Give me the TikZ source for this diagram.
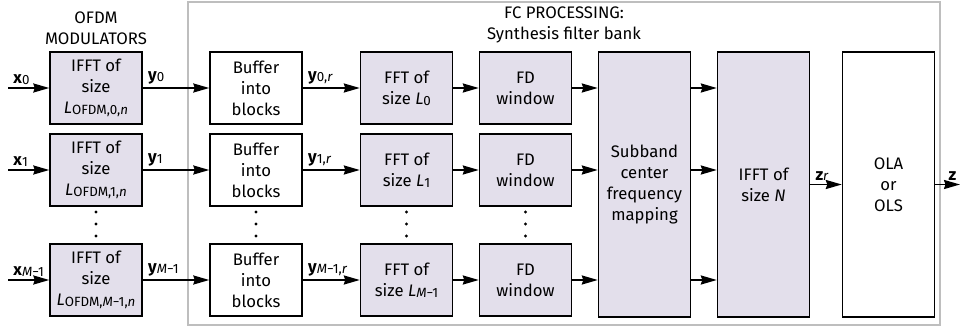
\documentclass[tikz,border=0pt]{standalone}
\usepackage{fontspec}
\setmainfont{Fira Sans}
\usepackage{xcolor}
\usepackage{tikz}
\usetikzlibrary{arrows.meta,positioning,calc}
\definecolor{lav}{RGB}{227,223,235}
\definecolor{fcgray}{RGB}{190,190,190}
\newcommand{\sbs}[1]{\raisebox{-0.5pt}{\fontsize{7.6}{8}\selectfont\mdseries #1}}
\tikzset{
  box/.style={draw,line width=0.8pt,minimum width=1.84cm,minimum height=1.44cm,align=center,inner sep=1pt},
  tall/.style={box,minimum height=5.3cm},
  sig/.style={line width=1.1pt,-{Stealth[length=3.2mm,width=1.8mm,inset=0.3mm]}},
  lbl/.style={inner sep=1.5pt,above right,xshift=1pt}
}

\begin{document}
\begin{tikzpicture}[x=0.02cm,y=-0.02cm,font=\fontsize{9.5}{12}\selectfont]
\useasboundingbox (0,0) rectangle (960,331);
\draw[fcgray,line width=0.9pt] (188,2) rectangle (940,325);
\node[align=center] (ttlofdm) at (96,28) {OFDM\\MODULATORS};
\node[align=center] (ttlfc) at (564,25) {FC PROCESSING:\\Synthesis filter bank};
\foreach \i/\yy/\k in {0/88/0, 1/170/1, 2/280/{\textit{M}−1}}{
  \node[box,fill=lav] (ofdm\i) at (96,\yy) {IFFT of\\size\\\textit{L}\sbs{OFDM,\k,\textit{n}}};
  \node[box] (buf\i) at (256,\yy) {Buffer\\into\\blocks};
  \node[box,fill=lav] (fft\i) at (406.5,\yy) {FFT of\\size \textit{L}\sbs{\k}};
  \node[box,fill=lav] (win\i) at (525.5,\yy) {FD\\window};
  \coordinate (in\i) at (8,\yy);
}
\node[tall,fill=lav] (sub) at (644.5,184.5) {Subband\\center\\frequency\\mapping};
\node[tall,fill=lav] (ifft) at (763.5,184.5) {IFFT of\\size \textit{N}};
\node[tall] (ola) at (888.5,184.5) {OLA\\or\\OLS};
\coordinate (out) at (960,184.5);
\foreach \i/\k in {0/0, 1/1, 2/{\textit{M}−1}}{
  \draw[sig] (in\i) -- node[lbl,pos=0]{\textbf{x}\sbs{\k}} (ofdm\i);
  \draw[sig] (ofdm\i) -- node[lbl,pos=0]{\textbf{y}\sbs{\k}} (buf\i);
  \draw[sig] (buf\i) -- node[lbl,pos=0]{\textbf{y}\sbs{\k,\textit{r}}} (fft\i);
  \draw[sig] (fft\i) -- (win\i);
  \draw[sig] (win\i) -- (win\i -| sub.west);
  \draw[sig] (sub.east |- win\i) -- (ifft.west |- win\i);
}
\draw[sig] (ifft) -- node[lbl,pos=0]{\textbf{z}\sbs{\textit{r}}} (ola);
\draw[sig] (ola) -- node[inner sep=1.5pt,above left,pos=1]{\textbf{z}} (out);
\foreach \xx in {96,256,406.5,525.5}
  \foreach \d in {212,224,236}
    \fill (\xx,\d) circle (0.9pt);
\end{tikzpicture}
\end{document}
